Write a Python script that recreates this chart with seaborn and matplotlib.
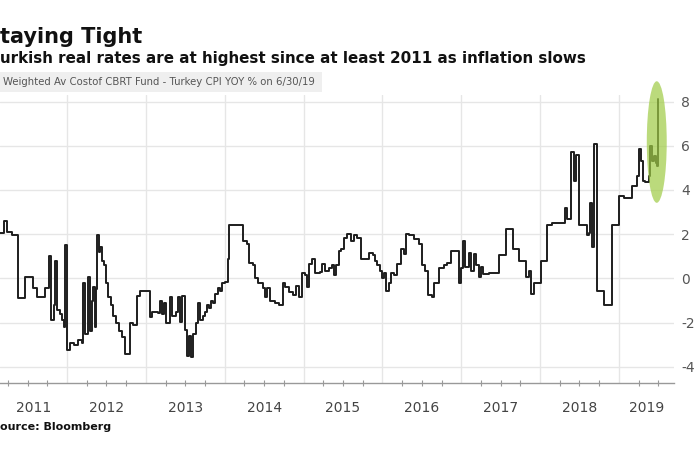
import numpy as np
import pandas as pd
import seaborn as sns
import matplotlib.pyplot as plt
from matplotlib.patches import Ellipse, Rectangle
import matplotlib.transforms as mtransforms

# real rate = weighted avg cost of CBRT funding - Turkey CPI YoY (%), decimal years
t = [2011.089, 2011.203, 2011.241, 2011.304, 2011.380, 2011.468, 2011.570, 2011.620,
     2011.722, 2011.772, 2011.797, 2011.835, 2011.848, 2011.873, 2011.911, 2011.937,
     2011.962, 2011.975, 2012.000, 2012.038, 2012.089, 2012.139, 2012.190, 2012.203,
     2012.228, 2012.266, 2012.291, 2012.316, 2012.329, 2012.354, 2012.367, 2012.380,
     2012.405, 2012.418, 2012.443, 2012.468, 2012.494, 2012.519, 2012.557, 2012.582,
     2012.620, 2012.658, 2012.696, 2012.734, 2012.797, 2012.835, 2012.886, 2012.924,
     2013.051, 2013.076, 2013.152, 2013.177, 2013.203, 2013.228, 2013.253, 2013.304,
     2013.329, 2013.380, 2013.405, 2013.430, 2013.456, 2013.494, 2013.519, 2013.544,
     2013.570, 2013.595, 2013.633, 2013.658, 2013.684, 2013.722, 2013.747, 2013.772,
     2013.797, 2013.823, 2013.848, 2013.873, 2013.911, 2013.937, 2013.962, 2014.000,
     2014.038, 2014.051, 2014.228, 2014.278, 2014.304, 2014.354, 2014.380, 2014.418,
     2014.481, 2014.506, 2014.532, 2014.570, 2014.633, 2014.684, 2014.734, 2014.759,
     2014.810, 2014.861, 2014.899, 2014.937, 2014.975, 2015.013, 2015.038, 2015.063,
     2015.101, 2015.139, 2015.203, 2015.228, 2015.266, 2015.329, 2015.367, 2015.392,
     2015.418, 2015.456, 2015.481, 2015.519, 2015.557, 2015.608, 2015.646, 2015.684,
     2015.734, 2015.835, 2015.886, 2015.911, 2015.937, 2015.975, 2016.000, 2016.025,
     2016.051, 2016.089, 2016.114, 2016.152, 2016.190, 2016.241, 2016.278, 2016.304,
     2016.342, 2016.405, 2016.468, 2016.506, 2016.544, 2016.582, 2016.633, 2016.658,
     2016.722, 2016.785, 2016.823, 2016.873, 2016.975, 2017.000, 2017.025, 2017.051,
     2017.101, 2017.127, 2017.165, 2017.190, 2017.228, 2017.253, 2017.278, 2017.354,
     2017.481, 2017.570, 2017.658, 2017.734, 2017.823, 2017.861, 2017.886, 2017.924,
     2018.013, 2018.089, 2018.152, 2018.316, 2018.342, 2018.392, 2018.430, 2018.456,
     2018.494, 2018.595, 2018.620, 2018.633, 2018.658, 2018.684, 2018.722, 2018.810,
     2018.911, 2019.000, 2019.063, 2019.165, 2019.228, 2019.253, 2019.278, 2019.304,
     2019.329, 2019.380, 2019.392, 2019.418, 2019.443, 2019.468, 2019.481, 2019.494]
rate = [2.05, 2.6, 2.1, 1.95, -0.9, 0.05, -0.45, -0.85,
        -0.45, 1.0, -1.9, -1.2, 0.8, -1.45, -1.6, -1.9,
        -2.2, 1.5, -3.25, -2.9, -3.0, -2.8, -2.9, -0.2,
        -2.5, 0.05, -2.4, -1.0, -0.4, -2.2, -0.5, 1.95,
        1.2, 1.4, 0.8, 0.6, -0.2, -0.85, -1.2, -1.7,
        -2.0, -2.4, -2.65, -3.4, -2.0, -2.1, -0.8, -0.55,
        -1.75, -1.5, -1.55, -1.0, -1.6, -1.1, -2.0, -0.85,
        -1.7, -1.5, -0.85, -1.95, -0.8, -2.35, -3.5, -2.6,
        -3.55, -2.5, -2.0, -1.1, -1.9, -1.7, -1.5, -1.2,
        -1.35, -1.0, -1.1, -0.7, -0.45, -0.55, -0.2, -0.15,
        0.9, 2.4, 1.7, 1.55, 0.7, 0.6, 0.0, -0.2,
        -0.45, -0.85, -0.45, -1.0, -1.1, -1.2, -0.2, -0.4,
        -0.6, -0.75, -0.35, -0.85, 0.25, 0.15, -0.4, 0.65,
        0.9, 0.25, 0.3, 0.65, 0.35, 0.45, 0.6, 0.15,
        0.6, 1.25, 1.35, 1.85, 2.0, 1.7, 1.95, 1.85,
        0.9, 1.15, 1.05, 0.8, 0.6, 0.35, 0.0, 0.25,
        -0.55, -0.2, 0.25, 0.15, 0.65, 1.35, 1.1, 2.0,
        1.95, 1.8, 1.55, 0.6, 0.35, -0.75, -0.85, -0.2,
        0.45, 0.6, 0.7, 1.25, -0.2, 0.45, 1.7, 0.5,
        1.15, 0.35, 1.1, 0.6, 0.05, 0.5, 0.2, 0.25,
        1.05, 2.25, 1.35, 0.8, 0.05, 0.35, -0.7, -0.2,
        0.8, 2.4, 2.5, 3.2, 2.7, 5.7, 4.4, 5.6,
        2.4, 1.95, 2.05, 3.4, 1.4, 6.1, -0.55, -1.2,
        2.4, 3.75, 3.65, 4.2, 4.65, 5.85, 5.3, 4.4,
        4.35, 4.65, 6.0, 5.3, 5.55, 5.2, 5.1, 8.1]

years = [2011, 2012, 2013, 2014, 2015, 2016, 2017, 2018, 2019]
y_ticks = [-4, -2, 0, 2, 4, 6, 8]

# texts as they appear in the (left-cropped) reference
title = 'taying Tight'
subtitle = 'urkish real rates are at highest since at least 2011 as inflation slows'
legend_label = 'Weighted Av Costof CBRT Fund - Turkey CPI YOY % on 6/30/19'
source = 'ource: Bloomberg'

df = pd.DataFrame({'t': t, 'rate': rate})

sns.set_theme(style='white')
plt.rcParams['axes.unicode_minus'] = False
fig = plt.figure(figsize=(7, 4.5), dpi=100)
ax = fig.add_axes([0, 0.149, 0.963, 0.64])

sns.lineplot(data=df, x='t', y='rate', drawstyle='steps-post', color='#1e1e1e',
             linewidth=1.4, errorbar=None, ax=ax, zorder=2)

# green highlight on the latest reading
ax.add_patch(Ellipse((2019.48, 6.17), 0.253, 5.5, facecolor='#9fcb45', alpha=0.7,
                     edgecolor='none', clip_on=False, zorder=3))

ax.set_xlim(2011.15, 2019.70)
ax.set_ylim(-4.73, 8.3)
ax.set_xlabel('')
ax.set_ylabel('')

ax.yaxis.tick_right()
ax.set_yticks(y_ticks)
ax.tick_params(axis='y', length=0, pad=5, labelsize=10, labelcolor='#555555')
ax.grid(axis='y', color='#e6e6e6', linewidth=1)

# year boundaries: long ticks + vertical grid, quarters as small ticks
ax.set_xticks(years[1:])
ax.set_xticklabels([])
ax.set_xticks(np.arange(2011.25, 2019.7, 0.25), minor=True)
ax.tick_params(axis='x', which='major', direction='out', length=23, width=0.8, color='#cfcfcf')
ax.tick_params(axis='x', which='minor', direction='inout', length=5, width=0.8, color='#999999', bottom=True)
ax.grid(axis='x', which='major', color='#e6e6e6', linewidth=1)

for s in ['top', 'left', 'right']:
    ax.spines[s].set_visible(False)
ax.spines['bottom'].set_color('#999999')
ax.spines['bottom'].set_linewidth(1)

trans = mtransforms.blended_transform_factory(ax.transData, ax.transAxes)
x0, x1 = ax.get_xlim()
for yr in years:
    a = max(yr, x0)
    b = min(yr + 1, x1)
    ax.text((a + b) / 2, -0.087, str(yr), transform=trans, ha='center', va='center',
            fontsize=10, color='#444444')

fig.text(0.0, 0.904, title, fontsize=15, fontweight='bold', color='#111111', va='baseline')
fig.text(0.0, 0.86, subtitle, fontsize=10.9, fontweight='bold', color='#111111', va='baseline')

fig.patches.append(Rectangle((0, 1 - 92 / 450), 322 / 700, 20 / 450, transform=fig.transFigure,
                             facecolor='#efefef', edgecolor='none', zorder=0))
fig.text(3 / 700, 0.818, legend_label, fontsize=7.3, color='#555555', va='center')

fig.text(0.0, 0.052, source, fontsize=8, fontweight='bold', color='#111111', va='center')

plt.savefig('out.png', dpi=100)
